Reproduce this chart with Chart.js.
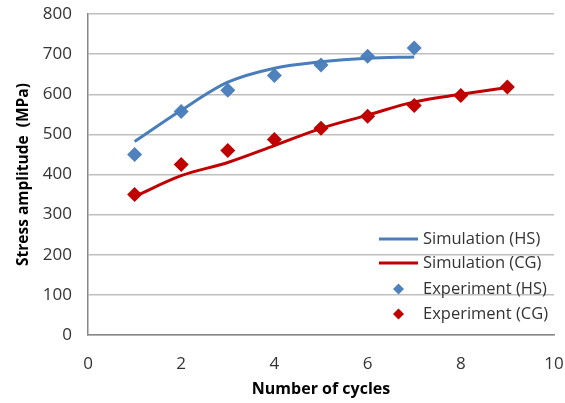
<!DOCTYPE html>
<html>
<head>
<meta charset="utf-8">
<script src="https://cdn.jsdelivr.net/npm/chart.js@4"></script>
<style>
  html, body { margin: 0; padding: 0; background: #fff; }
  #wrap { width: 565px; height: 403px; }
</style>
</head>
<body>
<div id="wrap"><canvas id="chart" width="565" height="403"></canvas></div>
<script>
// --- Data ---
const simHsX = [1, 2, 3, 4, 5, 6, 7];
const simHsY = [482, 560, 630, 665, 681, 690, 693];
const simCgX = [1, 2, 3, 4, 5, 6, 7, 8, 9];
const simCgY = [345, 397, 430, 472, 515, 548, 581, 600, 617];
const expHsX = [1, 2, 3, 4, 5, 6, 7];
const expHsY = [450, 557, 610, 647, 673, 695, 715];
const expCgX = [1, 2, 3, 4, 5, 6, 7, 8, 9];
const expCgY = [350, 425, 460, 487, 515, 545, 572, 597, 618];
const xTicks = [0, 2, 4, 6, 8, 10];
const yTicks = [0, 100, 200, 300, 400, 500, 600, 700, 800];

const BLUE = '#4a7ebb';
const RED = '#c00000';
const FONT = '"Open Sans", sans-serif';

const pts = (xs, ys) => xs.map((x, i) => ({ x: x, y: ys[i] }));

// legend drawn inside the plot area, bottom right
const insideLegend = {
    id: 'insideLegend',
    afterDraw(chart) {
        const ctx = chart.ctx;
        const x0 = 379, x1 = 418, tx = 423;
        const rows = [239, 263, 289, 314];
        ctx.save();
        ctx.font = '16.5px ' + FONT;
        ctx.textBaseline = 'middle';
        chart.data.datasets.forEach((ds, i) => {
            const y = rows[i];
            if (ds.showLine) {
                ctx.strokeStyle = ds.borderColor;
                ctx.lineWidth = 3;
                ctx.beginPath();
                ctx.moveTo(x0, y);
                ctx.lineTo(x1, y);
                ctx.stroke();
            } else {
                const cx = (x0 + x1) / 2, r = 5.5;
                ctx.fillStyle = ds.backgroundColor;
                ctx.beginPath();
                ctx.moveTo(cx, y - r);
                ctx.lineTo(cx + r, y);
                ctx.lineTo(cx, y + r);
                ctx.lineTo(cx - r, y);
                ctx.closePath();
                ctx.fill();
            }
            ctx.fillStyle = '#333';
            ctx.fillText(ds.label, tx, y);
        });
        ctx.restore();
    }
};

new Chart(document.getElementById('chart'), {
    type: 'scatter',
    data: {
        datasets: [
            {
                label: 'Simulation (HS)',
                data: pts(simHsX, simHsY),
                showLine: true,
                borderColor: BLUE,
                backgroundColor: BLUE,
                borderWidth: 3,
                pointRadius: 0,
                cubicInterpolationMode: 'monotone'
            },
            {
                label: 'Simulation (CG)',
                data: pts(simCgX, simCgY),
                showLine: true,
                borderColor: RED,
                backgroundColor: RED,
                borderWidth: 3,
                pointRadius: 0,
                cubicInterpolationMode: 'monotone'
            },
            {
                label: 'Experiment (HS)',
                data: pts(expHsX, expHsY),
                showLine: false,
                pointStyle: 'rectRot',
                pointRadius: 7.5,
                backgroundColor: '#4f81bd',
                borderColor: '#4f81bd',
                borderWidth: 0
            },
            {
                label: 'Experiment (CG)',
                data: pts(expCgX, expCgY),
                showLine: false,
                pointStyle: 'rectRot',
                pointRadius: 7.5,
                backgroundColor: RED,
                borderColor: RED,
                borderWidth: 0
            }
        ]
    },
    options: {
        responsive: false,
        animation: false,
        layout: { padding: { top: 14, right: 11, left: 0, bottom: 0 } },
        plugins: {
            legend: { display: false },
            tooltip: { enabled: false }
        },
        scales: {
            x: {
                type: 'linear',
                min: 0,
                max: 10,
                afterBuildTicks: (s) => { s.ticks = xTicks.map(v => ({ value: v })); },
                afterFit: (s) => {
                    s.height = 68;
                    s.paddingLeft = 0;
                    s.paddingRight = 0;
                },
                grid: { display: false, drawTicks: false },
                border: { display: true, color: '#868686', width: 1.5 },
                ticks: { color: '#333', font: { family: FONT, size: 17 }, padding: 19 },
                title: {
                    display: true,
                    text: 'Number of cycles',
                    color: '#000',
                    font: { family: FONT, size: 16, weight: 'bold' },
                    padding: { top: 10, bottom: 4 }
                }
            },
            y: {
                min: 0,
                max: 800,
                afterBuildTicks: (s) => { s.ticks = yTicks.map(v => ({ value: v })); },
                afterFit: (s) => {
                    s.width = 88;
                    s.paddingTop = 0;
                    s.paddingBottom = 0;
                },
                grid: { color: '#bfbfbf', lineWidth: 1.5, drawTicks: false },
                border: { display: true, color: '#868686', width: 1.5 },
                ticks: { color: '#333', font: { family: FONT, size: 17 }, padding: 16 },
                title: {
                    display: true,
                    text: 'Stress amplitude  (MPa)',
                    color: '#000',
                    font: { family: FONT, size: 15.5, weight: 'bold' },
                    padding: { top: 14, bottom: 0 }
                }
            }
        }
    },
    plugins: [insideLegend]
});
</script>
</body>
</html>
